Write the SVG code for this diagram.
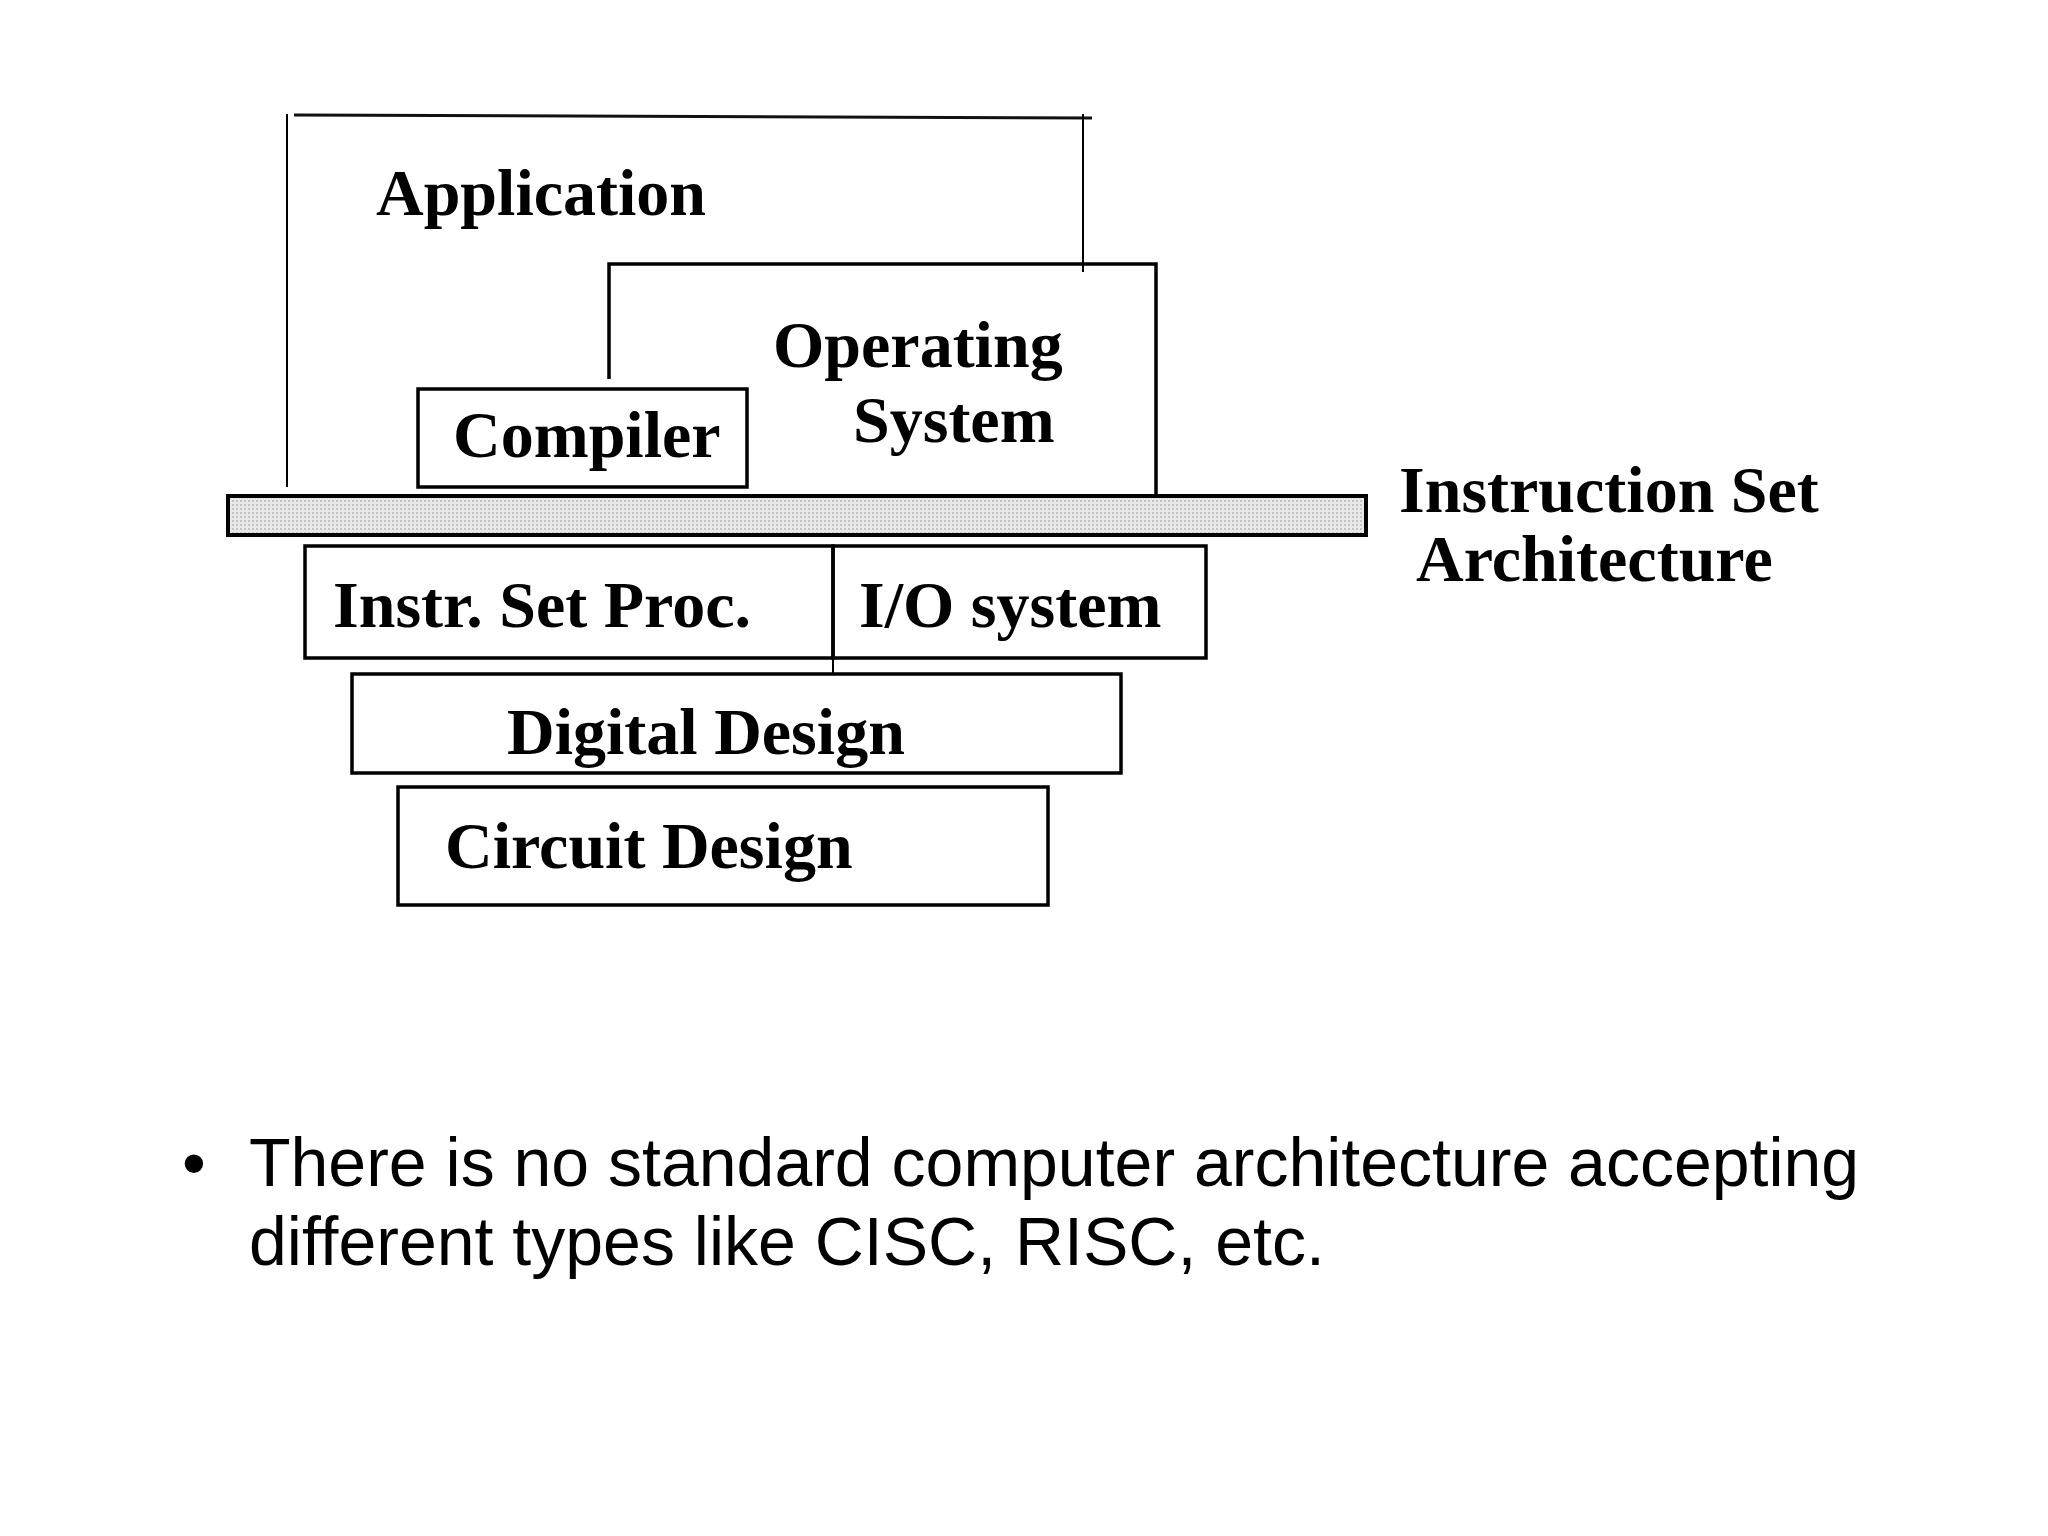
<svg xmlns="http://www.w3.org/2000/svg" width="2048" height="1536" viewBox="0 0 2048 1536">
  <defs>
    <pattern id="dots" width="4" height="4" patternUnits="userSpaceOnUse">
      <rect width="4" height="4" fill="#e8e8e8"/>
      <rect x="0" y="0" width="2" height="2" fill="#c4c4c4"/>
    </pattern>
    <style>
      .lbl { font-family: "Liberation Serif", "Times New Roman", serif; font-weight: bold; font-size: 66px; fill: #000; }
      .box { fill: none; stroke: #000; stroke-width: 3.5; }
      .thin { fill: none; stroke: #000; stroke-width: 2; }
      .body { font-family: "Liberation Sans", Arial, sans-serif; font-size: 68px; fill: #000; }
    </style>
  </defs>
  <rect width="2048" height="1536" fill="#ffffff"/>

  <g id="application">
    <line class="thin" x1="287" y1="114" x2="287" y2="487"/>
    <line x1="294" y1="115" x2="1092" y2="118" stroke="#111" stroke-width="3"/>
    <line class="thin" x1="1083" y1="114" x2="1083" y2="272"/>
    <text class="lbl" x="376" y="215">Application</text>
  </g>

  <g id="operating-system">
    <path class="box" d="M609,379 V264 H1156 V494" stroke-width="3"/>
    <text class="lbl" x="773" y="367">Operating</text>
    <text class="lbl" x="853" y="442">System</text>
  </g>

  <g id="compiler">
    <rect class="box" x="418" y="389" width="329" height="98"/>
    <text class="lbl" x="453" y="457">Compiler</text>
  </g>

  <g id="isa">
    <rect x="228" y="496" width="1138" height="39" fill="url(#dots)" stroke="#000" stroke-width="4"/>
    <text class="lbl" x="1399" y="512">Instruction Set</text>
    <text class="lbl" x="1416" y="581">Architecture</text>
  </g>

  <g id="instr-set-proc">
    <rect class="box" x="305" y="546" width="528" height="112"/>
    <text class="lbl" x="333" y="627">Instr. Set Proc.</text>
  </g>

  <g id="io-system">
    <rect class="box" x="833" y="546" width="373" height="112"/>
    <text class="lbl" x="859" y="627">I/O system</text>
  </g>

  <g id="digital-design">
    <rect class="box" x="352" y="674" width="769" height="99"/>
    <text class="lbl" x="507" y="754">Digital Design</text>
  </g>

  <g id="circuit-design">
    <rect class="box" x="398" y="787" width="650" height="118"/>
    <text class="lbl" x="445" y="868">Circuit Design</text>
  </g>

  <g id="connectors">
    <line class="thin" x1="833" y1="658" x2="833" y2="674"/>
  </g>

  <g id="bullet">
    <text class="body" x="182" y="1186">•</text>
    <text class="body" x="249" y="1186">There is no standard computer architecture accepting</text>
    <text class="body" x="249" y="1265">different types like CISC, RISC, etc.</text>
  </g>
</svg>
